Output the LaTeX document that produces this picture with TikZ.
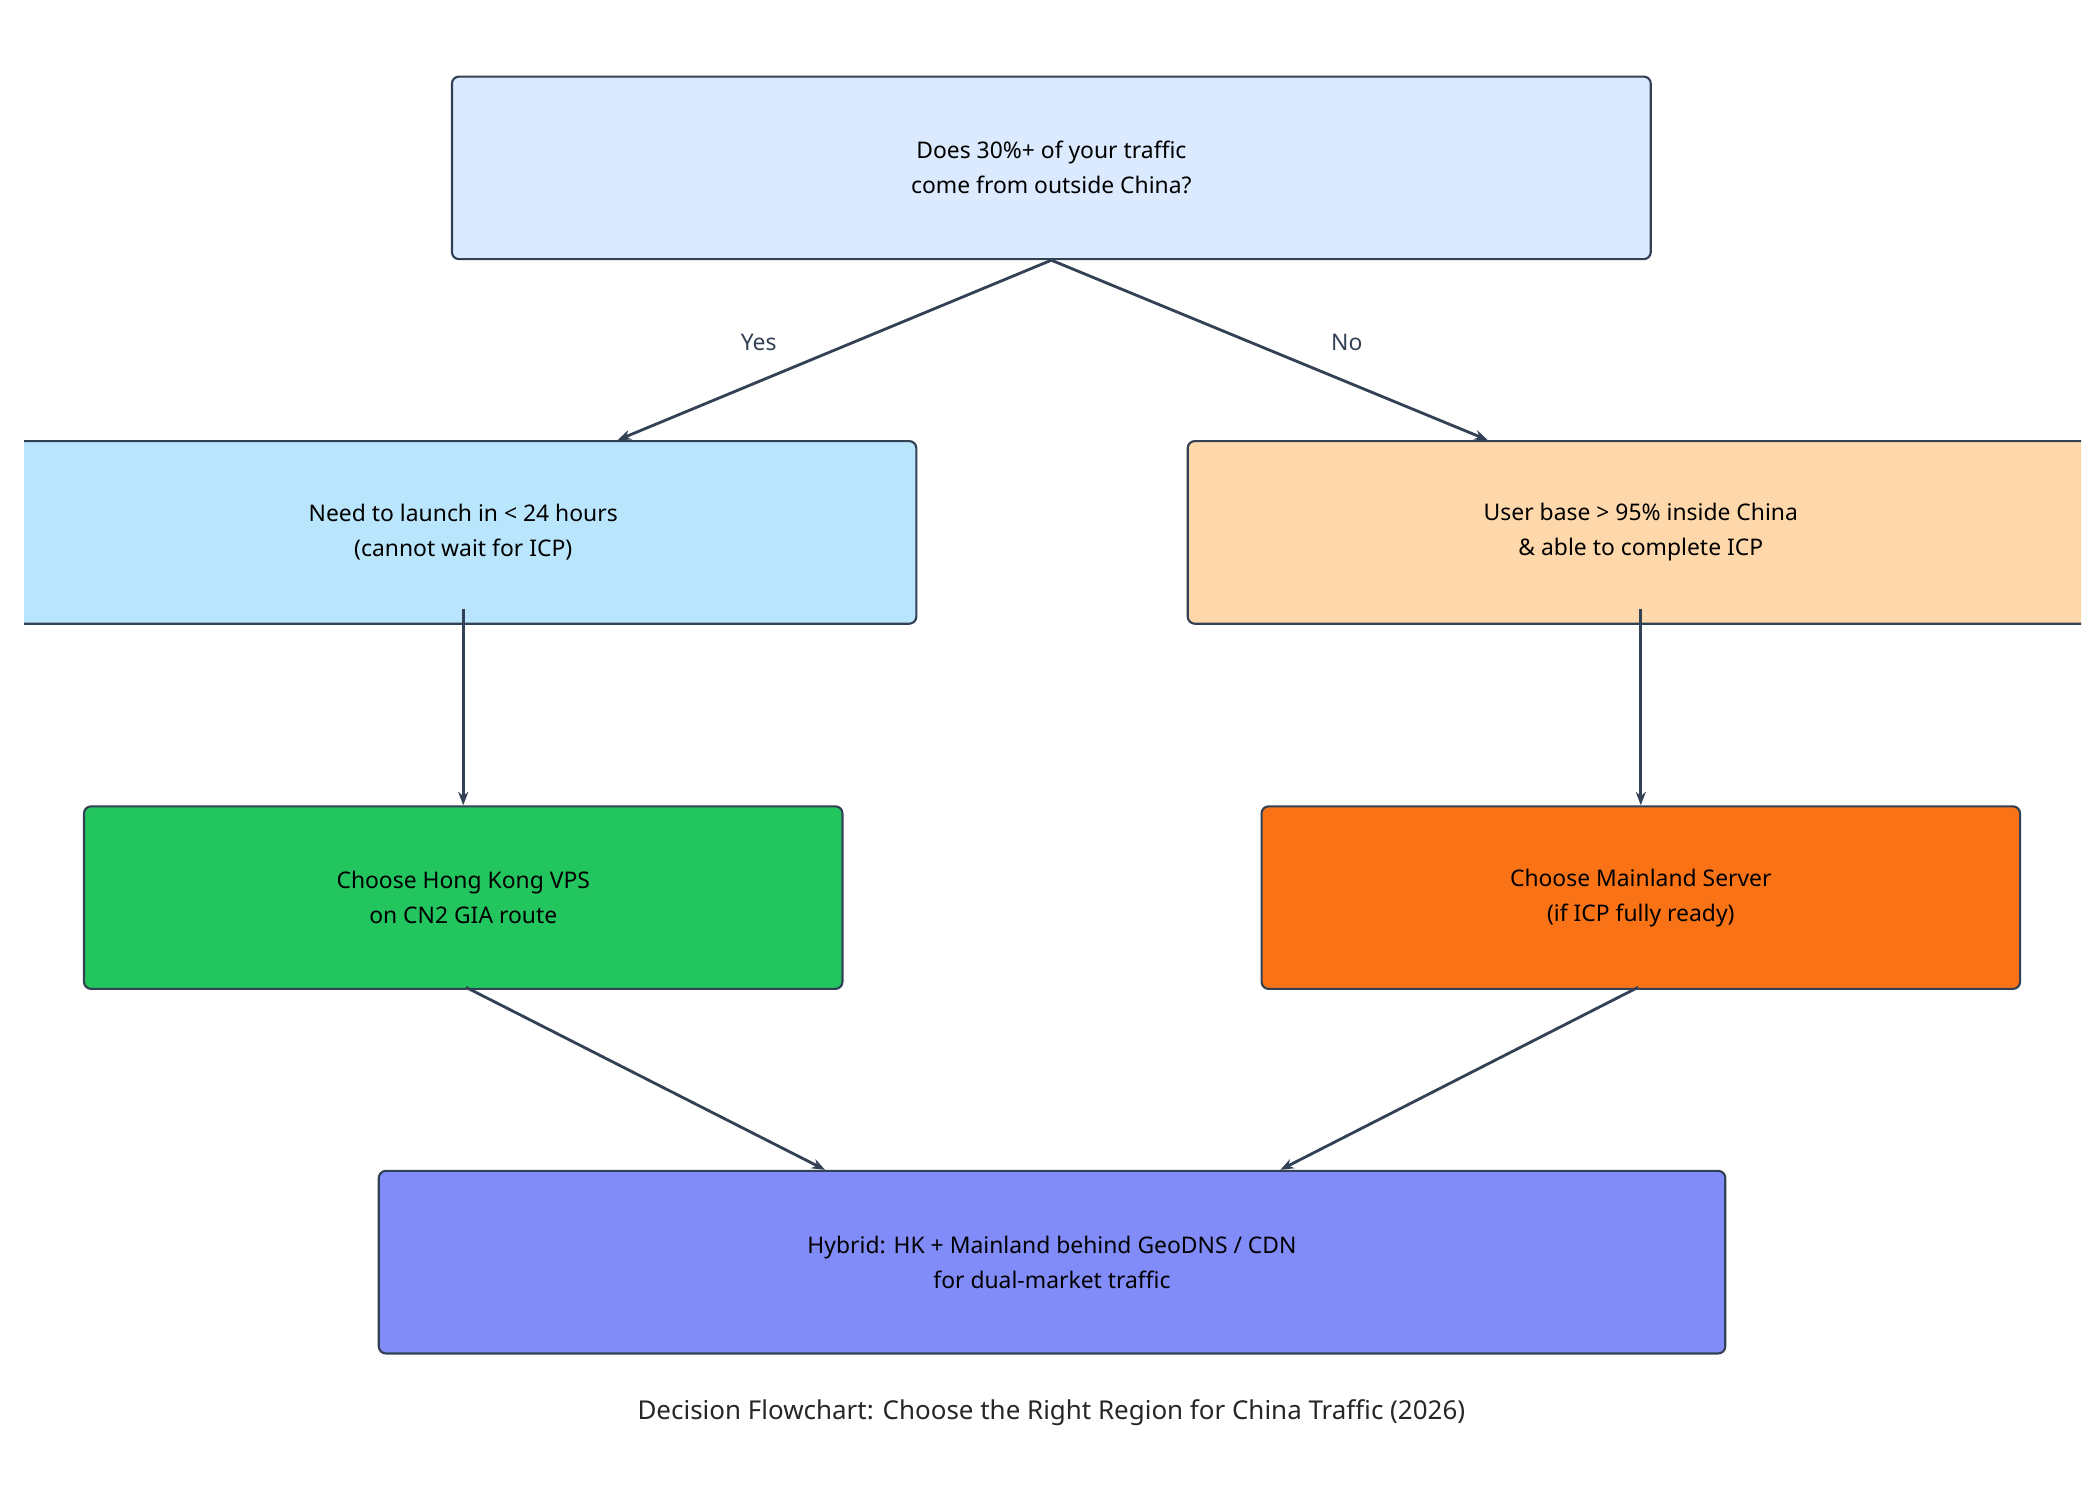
\documentclass[tikz,border=0pt]{standalone}
\usepackage{fontspec}
\setmainfont{Noto Sans}
\usetikzlibrary{arrows.meta, positioning, calc}
\definecolor{edgegray}{HTML}{334155}
\definecolor{questblue}{HTML}{DBEAFE}
\definecolor{skyblue}{HTML}{BAE6FD}
\definecolor{peach}{HTML}{FED7AA}
\definecolor{hkgreen}{HTML}{22C55E}
\definecolor{mainorange}{HTML}{F97316}
\definecolor{hybridblue}{HTML}{818CF8}

\begin{document}
\begin{tikzpicture}[x=0.02cm, y=-0.02cm, >={Stealth[length=2mm]}]
        \tikzset{box/.style={draw=edgegray, line width=0.9pt, rounded corners=3pt,
            minimum height=2.72cm, align=center, text=black,
            font=\fontsize{9.7}{14.8}\selectfont}}
        \useasboundingbox (0,0) rectangle (1564,1117);
        \node[box, fill=questblue, minimum width=17.86cm] (question) at (783,125) {Does 30\%+ of your traffic\\come from outside China?};
        \begin{scope}
            \clip (18,0) rectangle (1550,1117);
            \node[box, fill=skyblue, minimum width=13.5cm] (fast) at (345,396.5) {Need to launch in < 24 hours\\(cannot wait for ICP)};
            \node[box, fill=peach, minimum width=13.5cm] (local) at (1222,396.5) {User base > 95\% inside China\\\& able to complete ICP};
        \end{scope}
        \node[box, fill=hkgreen, minimum width=11.3cm] (hk) at (345,668.5) {Choose Hong Kong VPS\\on CN2 GIA route};
        \node[box, fill=mainorange, minimum width=11.3cm] (mainland) at (1222,668.5) {Choose Mainland Server\\(if ICP fully ready)};
        \node[box, fill=hybridblue, minimum width=20.06cm] (hybrid) at (783.5,940) {Hybrid: HK + Mainland behind GeoDNS / CDN\\for dual-market traffic};
        \node[font=\fontsize{11}{13}\selectfont\bfseries, text=black!85] (title) at (783,1052) {Decision Flowchart: Choose the Right Region for China Traffic (2026)};
        % connectors
        \draw[->, edgegray, line width=1.2pt] (question.south) -- ($(fast.north)+(115,0)$);
        \draw[->, edgegray, line width=1.2pt] (question.south) -- ($(local.north)+(-114,0)$);
        \node[font=\fontsize{9.7}{12}\selectfont\bfseries, text=edgegray] (yes) at (565,255) {Yes};
        \node[font=\fontsize{9.7}{12}\selectfont\bfseries, text=edgegray] (no) at (1003,255) {No};
        \draw[->, edgegray, line width=1.2pt] ($(fast.south)+(0,-12)$) -- (hk.north);
        \draw[->, edgegray, line width=1.2pt] ($(local.south)+(0,-12)$) -- (mainland.north);
        \draw[->, edgegray, line width=1.2pt] ($(hk.south)+(2,-2)$) -- ($(hybrid.north)+(-169,0)$);
        \draw[->, edgegray, line width=1.2pt] ($(mainland.south)+(-2,-2)$) -- ($(hybrid.north)+(170,0)$);
    \end{tikzpicture}
\end{document}
